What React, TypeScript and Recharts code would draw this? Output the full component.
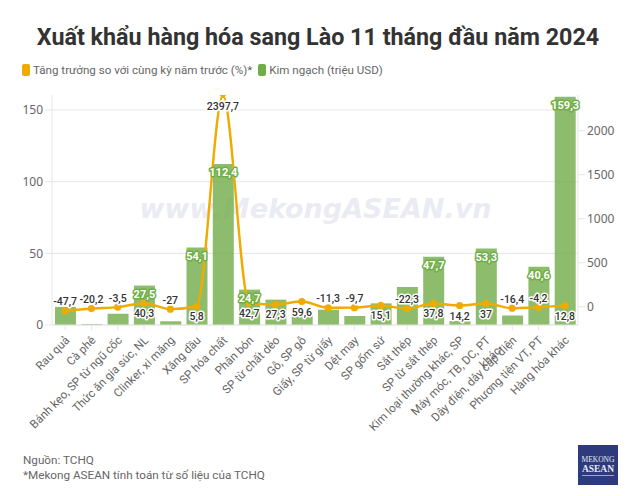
import { Bar, CartesianGrid, ComposedChart, LabelList, Line, XAxis, YAxis } from "recharts";

const categories = [
  "Rau quả", "Cà phê", "Bánh kẹo, SP từ ngũ cốc", "Thức ăn gia súc, NL", "Clinker, xi măng",
  "Xăng dầu", "SP hóa chất", "Phân bón", "SP từ chất dẻo", "Gỗ, SP gỗ",
  "Giấy, SP từ giấy", "Dệt may", "SP gốm sứ", "Sắt thép", "SP từ sắt thép",
  "Kim loại thường khác, SP", "Máy móc, TB, DC, PT khác", "Dây điện, dây cáp điện", "Phương tiện VT, PT", "Hàng hóa khác",
];
const turnover = [12.6, 0.6, 7.9, 27.5, 2.6, 54.1, 112.4, 24.7, 17.7, 6.2, 10.7, 6.3, 15.1, 26.5, 47.7, 2.8, 53.3, 6.7, 40.6, 159.3];
const growth = [-47.7, -20.2, -3.5, 40.3, -27, 5.8, 2397.7, 42.7, 27.3, 59.6, -11.3, -9.7, 15.1, -22.3, 37.8, 14.2, 37, -16.4, -4.2, 12.8];
// only the taller bars carry a label in the original
const labelledBars = ["Thức ăn gia súc, NL", "Xăng dầu", "SP hóa chất", "Phân bón", "SP từ sắt thép", "Máy móc, TB, DC, PT khác", "Phương tiện VT, PT", "Hàng hóa khác"];
const leftTicks = [0, 50, 100, 150];
const rightTicks = [0, 500, 1000, 1500, 2000];
// the wrapped labels break here
const wrapped: Record<string, string[]> = { "Máy móc, TB, DC, PT khác": ["Máy móc, TB, DC, PT", "khác"] };

const growthName = "Tăng trưởng so với cùng kỳ năm trước (%)*";
const turnoverName = "Kim ngạch (triệu USD)";

const FONT = "Roboto, sans-serif";
const NUM_FONT = "'Noto Sans', sans-serif";
const ORANGE = "#f0ab00";
const GREEN = "#70ad47";
const AXIS = "#e6e6e6";
const TEXT = "#666";

const data = categories.map((name, i) => ({ name, turnover: turnover[i], growth: growth[i] }));
const peak = Math.max(...growth);
const comma = (v: number) => String(v).replace(".", ",");

function CategoryTick({ x, y, payload }: any) {
  const lines = wrapped[payload.value] || [payload.value];
  return (
    <text transform={`translate(${x + 5},${y + 9}) rotate(-45)`} textAnchor="end" fontSize={11.6} fill={TEXT} fontFamily={FONT}>
      {lines.map((line, i) => (
        <tspan key={i} x={0} dy={i === 0 ? 0 : 15}>{line}</tspan>
      ))}
    </text>
  );
}

function GrowthDot({ cx, cy, payload, index }: any) {
  if (payload.growth !== peak) return <circle key={index} cx={cx} cy={cy} r={3.6} fill={ORANGE} />;
  const pts = Array.from({ length: 10 }, (_, i) => {
    const r = i % 2 === 0 ? 4.5 : 2;
    const a = (Math.PI / 5) * i - Math.PI / 2;
    return `${cx + r * Math.cos(a)},${cy + r * Math.sin(a)}`;
  });
  return <polygon key={index} points={pts.join(" ")} fill={ORANGE} />;
}

function GrowthLabel({ x, y, value }: any) {
  return (
    <text x={x} y={y + (value < 0 ? -9.5 : 10)} dy={4} textAnchor="middle" fontSize={10.5} fontWeight={500} fontFamily={FONT}
      fill="#333" stroke="#fff" strokeWidth={3} strokeLinejoin="round" style={{ paintOrder: "stroke" }}>
      {comma(value)}
    </text>
  );
}

function BarValueLabel({ x, y, width, value, index }: any) {
  if (!labelledBars.includes(categories[index])) return null;
  return (
    <text x={x + width / 2} y={y + 8.5} dy={4} textAnchor="middle" fontSize={11} fontWeight={700} fontFamily={FONT}
      fill="#fff" stroke="#6fae46" strokeWidth={3} strokeLinejoin="round" style={{ paintOrder: "stroke" }}>
      {comma(value)}
    </text>
  );
}

export default function App() {
  return (
    <div style={{ position: "absolute", left: 0, top: 0, width: 631, height: 496, background: "#fff", fontFamily: FONT, overflow: "hidden" }}>
      <div style={{ position: "absolute", left: 0, width: 636, top: 20, textAlign: "center", fontSize: 23.3, lineHeight: "34px", fontWeight: 700, color: "#333", whiteSpace: "nowrap" }}>
        Xuất khẩu hàng hóa sang Lào 11 tháng đầu năm 2024
      </div>

      <div style={{ position: "absolute", left: 22, top: 62, display: "flex", alignItems: "center", fontSize: 11.6, lineHeight: "16px", color: TEXT, whiteSpace: "nowrap" }}>
        <span style={{ width: 8, height: 12, borderRadius: 2, background: ORANGE, marginRight: 3 }} />
        <span style={{ marginRight: 6 }}>{growthName}</span>
        <span style={{ width: 8, height: 12, borderRadius: 2, background: GREEN, marginRight: 3 }} />
        <span>{turnoverName}</span>
      </div>

      <div style={{ position: "absolute", left: 0, width: 631, top: 192, textAlign: "center", fontFamily: "'DejaVu Sans', sans-serif", fontSize: 27, lineHeight: "34px", fontWeight: 700, fontStyle: "italic", color: "#ebebf3", whiteSpace: "nowrap" }}>
        www.MekongASEAN.vn
      </div>

      <div style={{ position: "absolute", left: 0, top: 0 }}>
        <ComposedChart width={631} height={496} data={data} margin={{ top: 95, left: 0, right: 0, bottom: 41 }} barCategoryGap={2}>
          <CartesianGrid yAxisId="left" xAxisId={0} vertical={false} stroke={AXIS} syncWithTicks />
          <XAxis dataKey="name" interval={0} height={130} tick={<CategoryTick />} tickSize={5} stroke={AXIS} />
          <YAxis yAxisId="left" width={52} domain={[0, 160.5]} ticks={leftTicks} allowDataOverflow stroke={AXIS} tickSize={7}
            tick={{ fill: TEXT, fontSize: 12, fontFamily: NUM_FONT }} />
          <YAxis yAxisId="right" orientation="right" width={53} domain={[-207, 2405]} ticks={rightTicks} allowDataOverflow stroke={AXIS} tickSize={7}
            tick={{ fill: TEXT, fontSize: 12, fontFamily: NUM_FONT }} />
          <Bar yAxisId="left" dataKey="turnover" name={turnoverName} barSize={21} fill={GREEN} fillOpacity={0.8} isAnimationActive={false}>
            <LabelList dataKey="turnover" content={<BarValueLabel />} />
          </Bar>
          <Line yAxisId="right" dataKey="growth" name={growthName} type="monotone" stroke={ORANGE} strokeWidth={2.4} dot={(p: any) => <GrowthDot {...p} />} isAnimationActive={false}>
            <LabelList dataKey="growth" content={<GrowthLabel />} />
          </Line>
        </ComposedChart>
      </div>

      <div style={{ position: "absolute", left: 23, top: 453, fontSize: 11.7, lineHeight: "15px", color: TEXT, whiteSpace: "nowrap" }}>
        <div>Nguồn: TCHQ</div>
        <div>*Mekong ASEAN tính toán từ số liệu của TCHQ</div>
      </div>

      <div style={{ position: "absolute", left: 578, top: 445, width: 40, height: 40, background: "#2d3a7c", color: "#e8e8f4", textAlign: "center", fontFamily: "'Liberation Serif', serif" }}>
        <div style={{ fontSize: 7.5, lineHeight: "9px", marginTop: 10 }}>MEKONG</div>
        <div style={{ fontSize: 9.5, lineHeight: "10px", fontWeight: 700 }}>ASEAN</div>
        <div style={{ height: 1, margin: "1px 4px 0", background: "#c9a94e" }} />
      </div>
    </div>
  );
}
